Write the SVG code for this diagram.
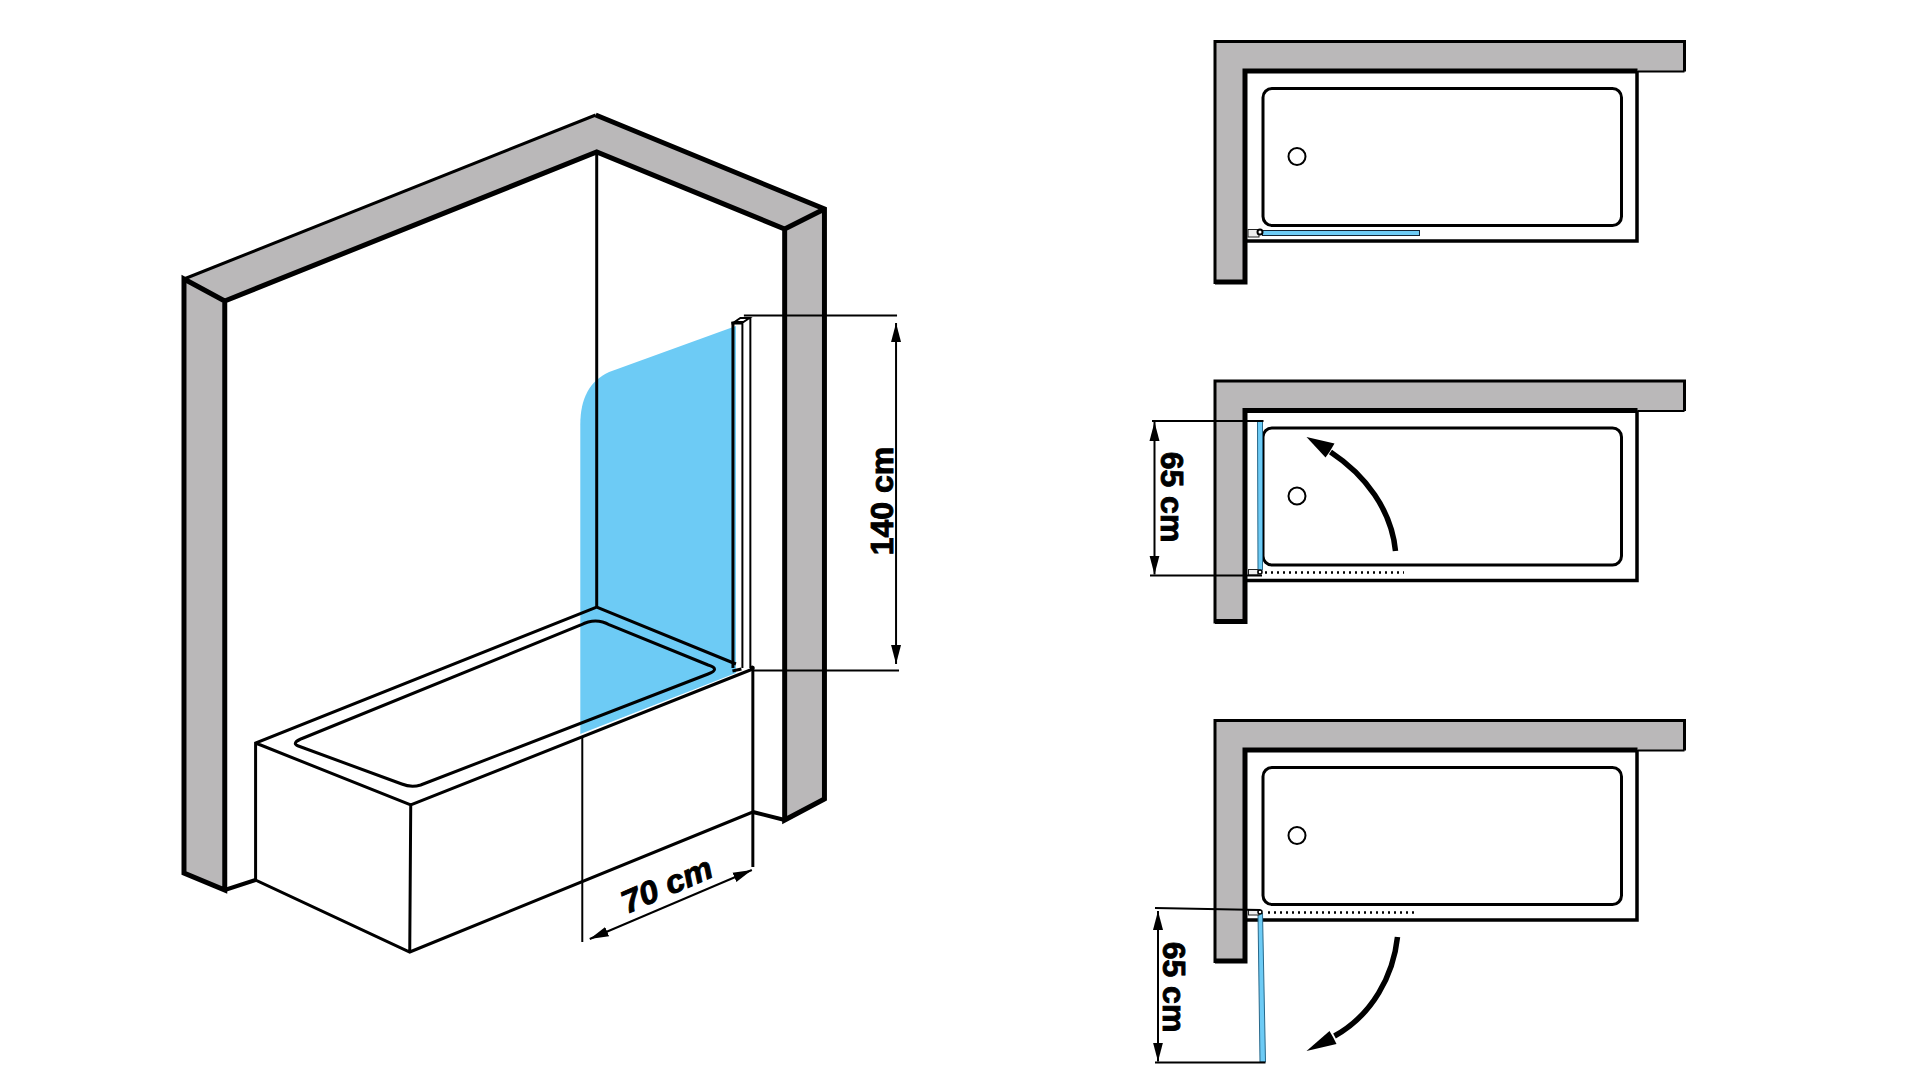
<svg xmlns="http://www.w3.org/2000/svg" width="1920" height="1080" viewBox="0 0 1920 1080">
<defs>
<marker id="ah" markerUnits="userSpaceOnUse" markerWidth="20" markerHeight="12" refX="19" refY="6" orient="auto-start-reverse"><path d="M0,1 L19,6 L0,11 Z" fill="#000"/></marker>
<g id="plan">
<path d="M1215,41.500 H1684.500 V71.500 H1245 V282 H1215 Z" class="wallfill"/>
<path d="M1215,284 V41.500 H1684.500 V71.500" class="o3"/>
<path d="M1684.500,71.500 H1637.500" class="o2"/>
<path d="M1215,282 H1245 V71 H1637.500" class="o5"/>
<path d="M1245,241 H1637 V71" class="t35"/>
<rect x="1263" y="88.500" width="358.500" height="137" rx="9" class="o3"/>
<circle cx="1297" cy="156.500" r="8.500" class="o2"/>
</g>
</defs>
<style>
text{font-family:"Liberation Sans",Arial,sans-serif;font-weight:700;font-size:32px;fill:#000;stroke:#000;stroke-width:.9px}
.wallfill{fill:#bab8b9;stroke:none}
.o2,.o3,.o4,.o5,.t2,.t3,.t35{fill:none;stroke:#000}
.o2{stroke-width:2}.o3{stroke-width:3}.o4{stroke-width:4}.o5{stroke-width:5}
.t2{stroke-width:2}.t3{stroke-width:3}.t35{stroke-width:3.500}
.glass{fill:#6dcbf5}
.dim{fill:none;stroke:#000;stroke-width:2;marker-start:url(#ah);marker-end:url(#ah)}
.dots{fill:none;stroke:#000;stroke-width:2.500;stroke-dasharray:2 4}
.hinge{fill:#eee;stroke:#222;stroke-width:1}
</style>
<rect width="1920" height="1080" fill="#fff"/>

<g transform="translate(1,0) scale(.9945,1)">
<g id="iso-glass">
<path class="glass" d="M739,326 L611.500,372 C592,381 582.500,398 582.500,425 V734 L739,673 Z"/>
</g>
<g id="iso-wall">
<path class="wallfill" d="M184,279 L598,115 L828,209 V799 L788,820 V229 L599,152 L225,301 V890 L184,873 Z"/>
<path class="o3" d="M184,279 L598,115"/>
<path class="o5" d="M225,301 L599,152 L788,229 L828,209 M598,115 L828,209 V799 L788,820 V229 M184,873 V279 L225,301 V890 Z"/>
<path class="o4" d="M225,890 L256,880 M756,812 L788,820"/>
</g>
<g id="iso-tub">
<path class="t3" d="M599,152 V607"/>
<path class="t3" d="M739,664 L599,607 L256,743 V880 L411,952 L756,812 M256,743 L412,805 L756,669 M412,805 L411,952"/>
<path class="t3" d="M299,746 L403,784 Q412.500,788 422,785 L711,674 Q724,669 711,665 L612,625 Q598,617 583,625 L304,738 Q291,743 299,746 Z"/>
<path class="t3" d="M756,670 V867"/>
<path class="t2" d="M584.500,737 V942"/>
</g>
<g id="iso-profile" transform="translate(2.500,0)">
<path class="o3" d="M733.500,322 V668"/>
<path class="o2" d="M735,322 L741,318 H750 L744,322 Z M743,321 V668 M751,318 V668"/>
<circle cx="753" cy="668" r="2.500" fill="#000"/>
<path class="o3" d="M732,323 H743 M733,671 L742,669"/>
</g>
<g id="iso-dimensions">
<path class="t2" d="M747,315.500 H901 M757,670.500 H903"/>
<path class="dim" d="M900,323 V664"/>
<path class="dim" d="M592,939 L755,870"/>
</g>
</g>

<g id="plan-1">
<use href="#plan"/>
<rect x="1262.500" y="230.500" width="157" height="5" class="glass" stroke="#123" stroke-width="1"/>
<rect x="1248" y="229.500" width="11" height="7.500" class="hinge"/>
<circle cx="1260" cy="232" r="2.500" fill="#fff" stroke="#000" stroke-width="2"/>
</g>
<g id="plan-2">
<use href="#plan" y="339.500"/>
<path class="glass" d="M1257.500,421 H1262.500 V570 H1258 Z" stroke="#27688a" stroke-width="1"/>
<rect x="1248.500" y="569.500" width="9.500" height="5.500" class="hinge"/>
<circle cx="1260" cy="572" r="2" fill="#fff" stroke="#000" stroke-width="1.500"/>
<path class="dots" d="M1265,572.500 H1404"/>
<path d="M1395.500,551 C1391.500,510 1365.500,475 1330.500,452" fill="none" stroke="#000" stroke-width="5.500"/>
<path d="M1306.500,437 L1334.500,443.500 L1329.500,452 L1325.500,457.500 Z" fill="#000"/>
</g>
<g id="plan-3">
<use href="#plan" y="679"/>
<path class="glass" d="M1258,913 H1262.500 L1265.500,1062 H1260 Z" stroke="#27688a" stroke-width="1"/>
<rect x="1248.500" y="910" width="10.500" height="5" class="hinge"/>
<circle cx="1260" cy="912" r="2" fill="#fff" stroke="#000" stroke-width="1.500"/>
<path class="dots" d="M1268,912.500 H1414"/>
<path d="M1397.500,937 C1393.500,975 1372.500,1015 1334.500,1036" fill="none" stroke="#000" stroke-width="5.500"/>
<path d="M1306.500,1051 L1329.500,1031 L1333.500,1038 L1336.500,1044 Z" fill="#000"/>
</g>

<g id="connectors">
<path class="t2" d="M1152,421 H1263.500 M1150,575.500 H1262"/>
<path class="dim" d="M1154.500,422 V574.500"/>
<path class="t2" d="M1155,908 L1260.500,910 M1155,1062.500 H1265.500"/>
<path class="dim" d="M1158,911 V1061.500"/>
</g>
<g id="labels">
<text x="893" y="501" text-anchor="middle" transform="rotate(-90 893 501)">140 cm</text>
<text x="671" y="895" text-anchor="middle" textLength="96" lengthAdjust="spacingAndGlyphs" style="font-style:italic" transform="rotate(-23.300 671 895)">70 cm</text>
<text x="1161" y="497" text-anchor="middle" transform="rotate(90 1161 497)">65 cm</text>
<text x="1163" y="987" text-anchor="middle" transform="rotate(90 1163 987)">65 cm</text>
</g>
</svg>
